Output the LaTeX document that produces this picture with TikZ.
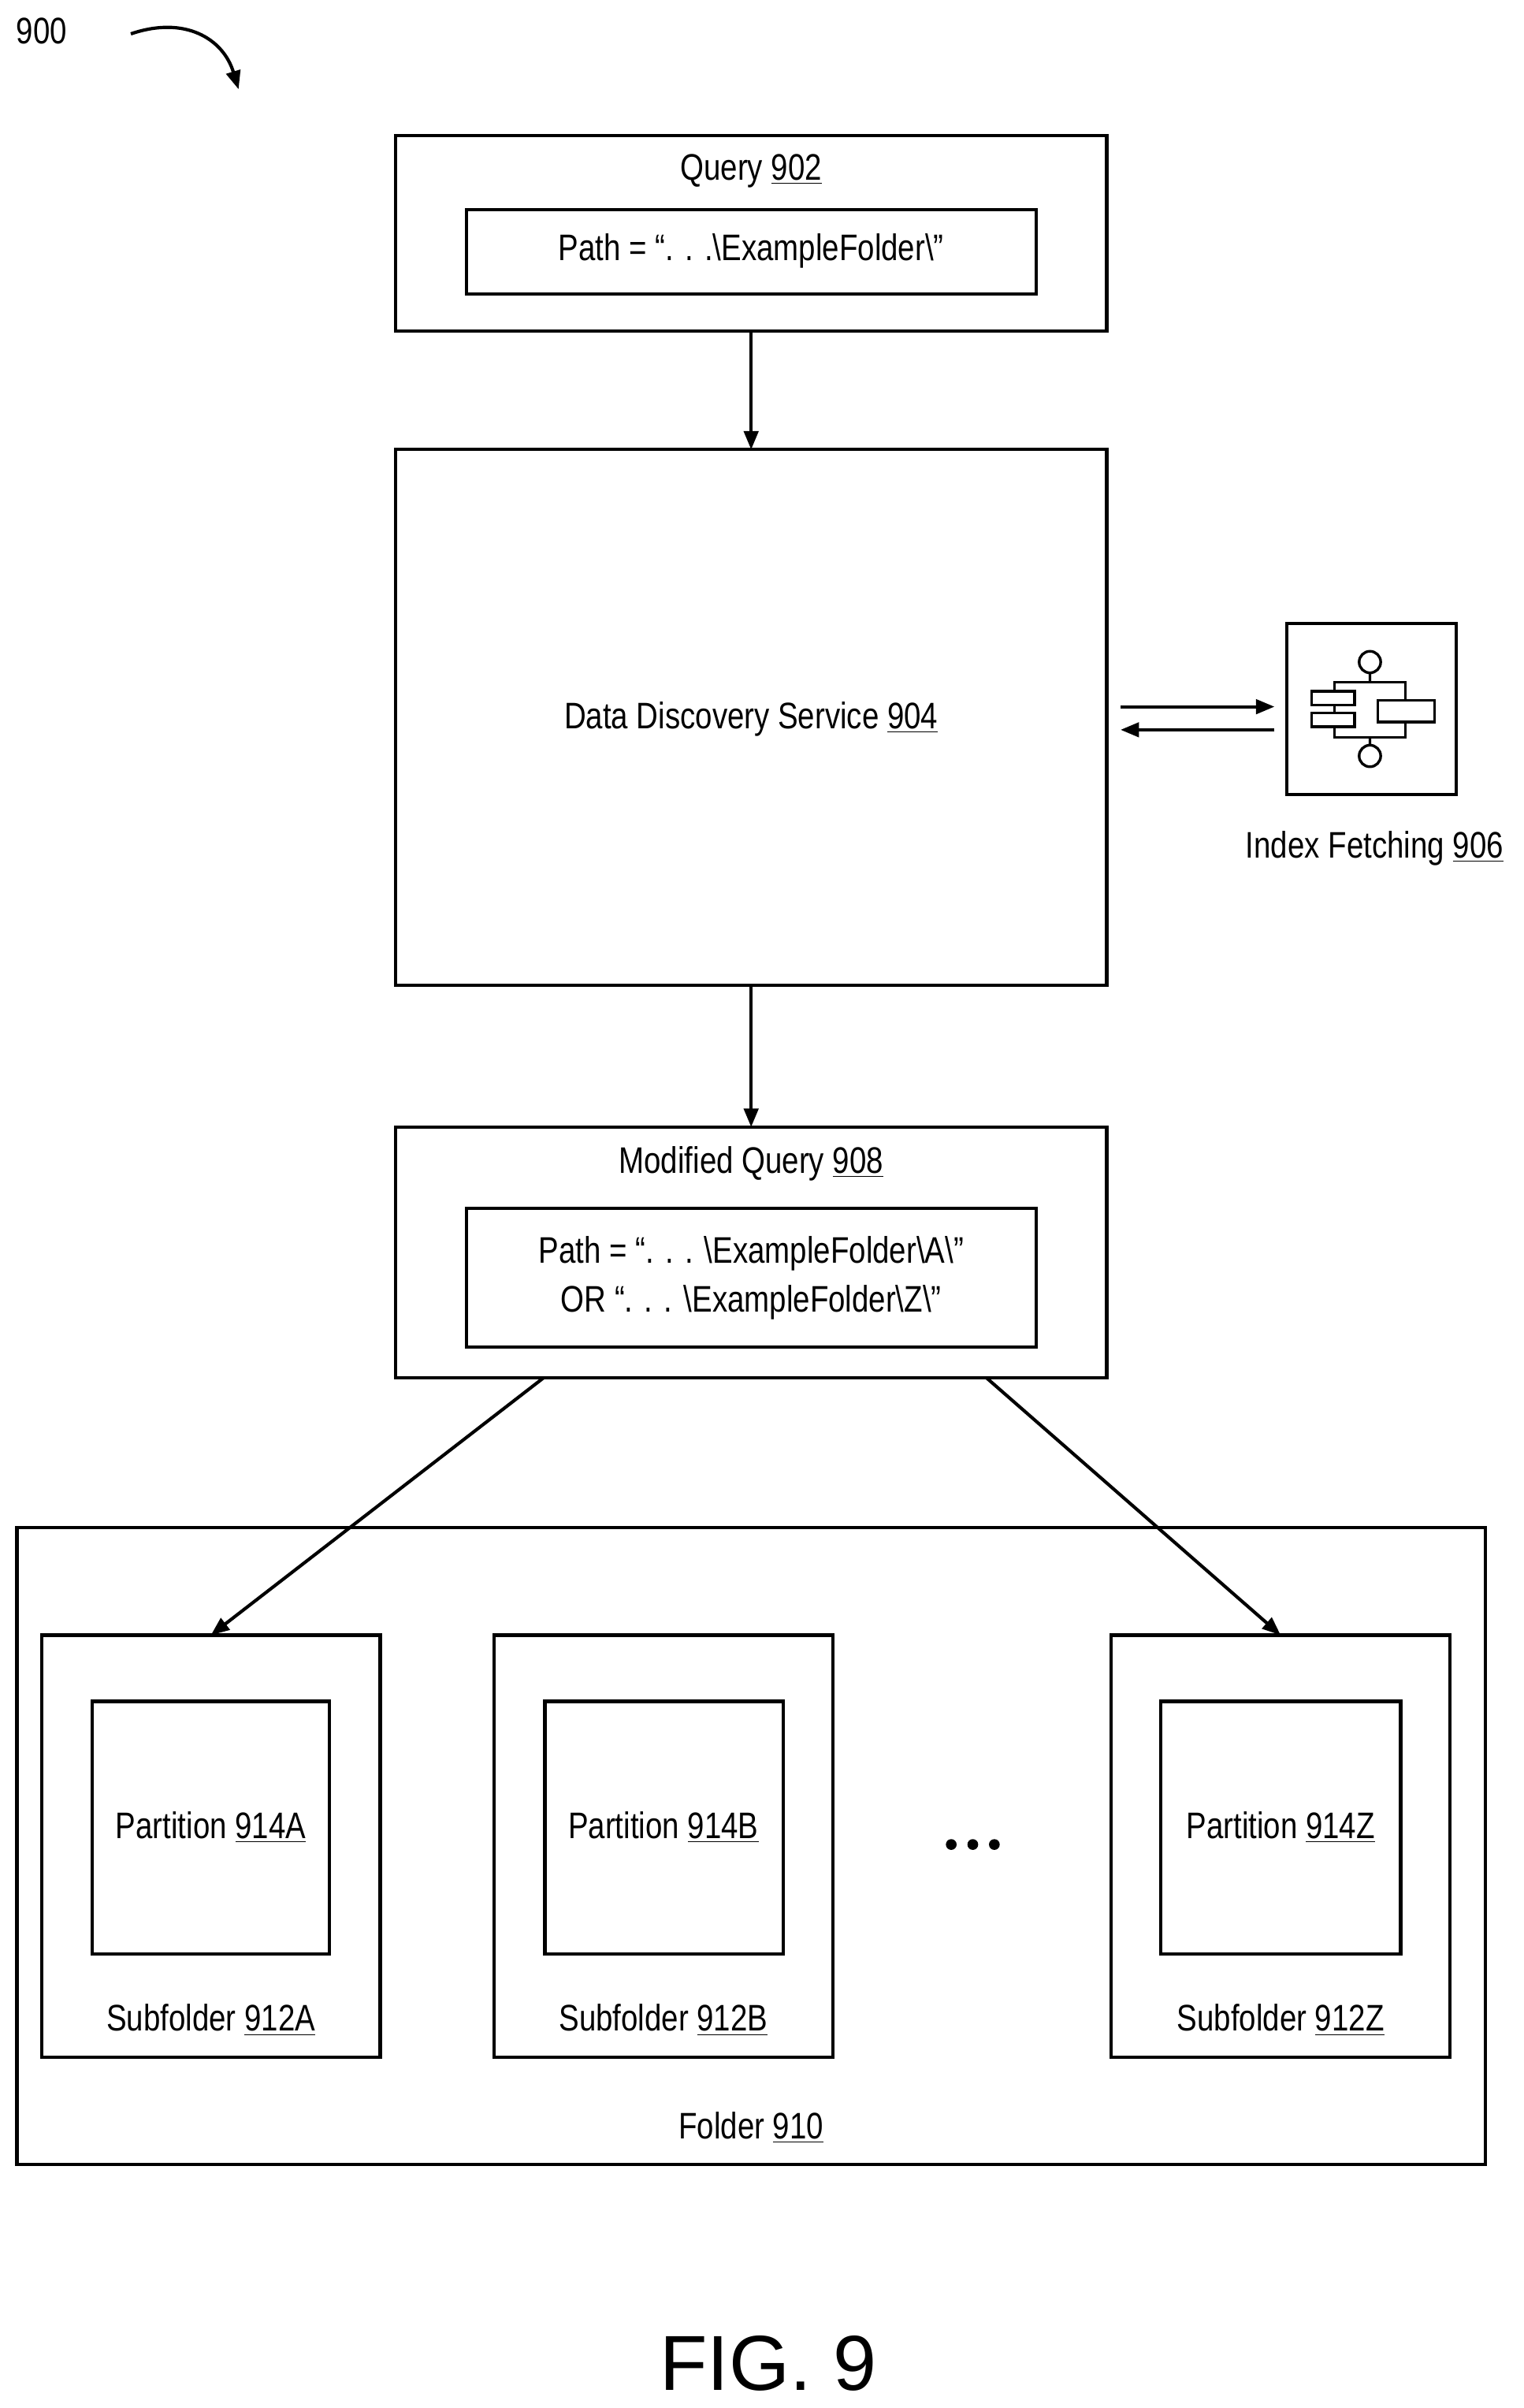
\documentclass[tikz,border=0pt]{standalone}
\usepackage{fontspec}
\setmainfont{Liberation Sans}[FakeStretch=0.82]
\usetikzlibrary{arrows.meta}
\newcommand{\refnum}[1]{\underline{#1}}
\tikzset{every picture/.style={line width=1.6pt}}
\tikzset{
  txt/.style={font=\fontsize{18}{22}\selectfont, inner sep=0pt, align=center},
  box/.style={draw, inner sep=0pt},
  arr/.style={-{Triangle[length=9pt,width=7pt]}},
}

\begin{document}
\begin{tikzpicture}[x=0.75pt,y=0.75pt,yscale=-1,xscale=1]
\useasboundingbox (0,0) rectangle (990,1564);

%Label and curved arrow
\node[txt] (fignum) at (27,20) {900};
\draw[arr] (85,22) .. controls (120,10) and (145,25) .. (155,58);

%Query
\draw[box] (257,88) rectangle (719,215);
\coordinate (qtop) at (488,88);
\coordinate (qbot) at (488,215);
\node[txt] (q) at (488,111) {Query \refnum{902}};
\draw[box] (303,136) rectangle (673,191);
\node[txt] (qpath) at (488,163) {Path = “. . .\textbackslash ExampleFolder\textbackslash ”};

%Data Discovery Service
\draw[box] (257,292) rectangle (719,640);
\coordinate (dtop) at (488,292);
\coordinate (dbot) at (488,640);
\node[txt] (dds) at (488,467) {Data Discovery Service \refnum{904}};
\draw[arr] (qbot) -- (dtop);

%Index Fetching icon
\draw[box] (836,405) rectangle (946,516);
\draw[line width=1.3pt] (867,443) rectangle (913,479);
\draw[line width=1.3pt, fill=white] (852,449) rectangle (880,458);
\draw[line width=1.3pt, fill=white] (852,463) rectangle (880,472);
\draw[line width=1.3pt, fill=white] (895,455) rectangle (932,469);
\draw[line width=1.3pt] (890,430) circle (7) (890,437) -- (890,443);
\draw[line width=1.3pt] (890,491) circle (7) (890,479) -- (890,484);
\node[txt] (idx) at (893,551) {Index Fetching \refnum{906}};
\coordinate (ia) at (728,459);
\coordinate (ib) at (828,459);
\coordinate (ic) at (828,474);
\coordinate (id) at (728,474);
\draw[arr] (ia) -- (ib);
\draw[arr] (ic) -- (id);

%Modified Query
\draw[box] (257,732) rectangle (719,895);
\coordinate (mtop) at (488,732);
\node[txt] (mq) at (488,756) {Modified Query \refnum{908}};
\draw[box] (303,785) rectangle (673,875);
\node[txt] (mpath) at (488,830) {Path = “. . . \textbackslash ExampleFolder\textbackslash A\textbackslash ”\\[2pt]OR “. . . \textbackslash ExampleFolder\textbackslash Z\textbackslash ”};
\draw[arr] (dbot) -- (mtop);

%Folder
\draw[box] (11,992) rectangle (965,1406);
\node[txt] (fold) at (488,1382) {Folder \refnum{910}};

%Subfolders and partitions
\draw[box] (27,1062) rectangle (247,1336);
\draw[box] (60,1105) rectangle (214,1269);
\node[txt] (pa) at (137,1187) {Partition \refnum{914A}};
\node[txt] (sa) at (137,1312) {Subfolder \refnum{912A}};
\draw[box] (321,1062) rectangle (541,1336);
\draw[box] (354,1105) rectangle (509,1269);
\node[txt] (pb) at (431,1187) {Partition \refnum{914B}};
\node[txt] (sb) at (431,1312) {Subfolder \refnum{912B}};
\draw[box] (722,1062) rectangle (942,1336);
\draw[box] (754,1105) rectangle (910,1269);
\node[txt] (pz) at (832,1187) {Partition \refnum{914Z}};
\node[txt] (sz) at (832,1312) {Subfolder \refnum{912Z}};
\foreach \x in {618,632,646} \fill (\x,1198) circle (3.5);

\coordinate (m1) at (353,895);
\coordinate (m2) at (641,895);
\coordinate (atop) at (137,1062);
\coordinate (ztop) at (832,1062);
\draw[arr] (m1) -- (atop);
\draw[arr] (m2) -- (ztop);

% Figure title
\node[font=\fontsize{38}{42}\selectfont\addfontfeature{FakeStretch=1}, inner sep=0pt] (fig) at (499,1535) {FIG. 9};

\end{tikzpicture}
\end{document}
